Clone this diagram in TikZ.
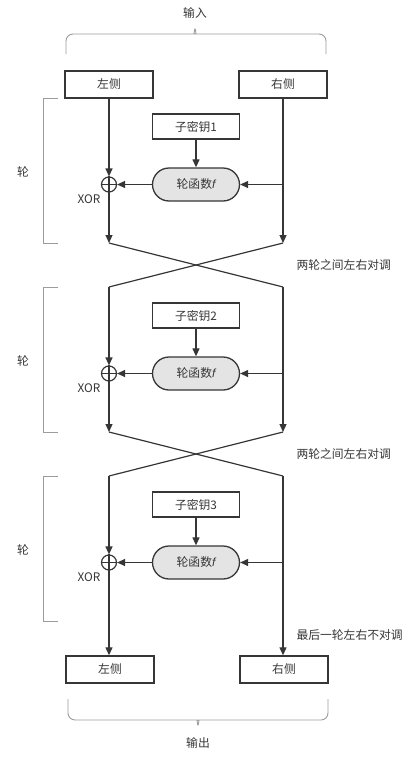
\documentclass[tikz,border=0pt]{standalone}
\usepackage{fontspec}
\setmainfont{Noto Sans CJK SC}
\newfontfamily\latinsans{Liberation Sans}
\usetikzlibrary{arrows.meta,shapes.misc,positioning}
\definecolor{inkgray}{HTML}{363636}
\definecolor{bracegray}{HTML}{9C9C9C}
\definecolor{fungray}{HTML}{E4E4E4}
\tikzset{
  halfbox/.style={draw=inkgray,line width=1.4pt,minimum width=88pt,minimum height=27pt,inner sep=0pt},
  keybox/.style={draw=inkgray,line width=1.3pt,minimum width=87pt,minimum height=25pt,inner sep=0pt},
  roundfn/.style={rounded rectangle,draw=inkgray,fill=fungray,line width=1.3pt,minimum width=87pt,minimum height=33pt,inner sep=0pt},
  xorgate/.style={circle,draw=inkgray,line width=1.2pt,minimum size=15pt,inner sep=0pt},
  flow/.style={draw=inkgray,line width=1.2pt},
  flowarrow/.style={flow,-{Triangle[length=8pt,width=7pt]}},
  bracketline/.style={draw=bracegray,line width=0.9pt},
}
\newcommand{\fnlabel}{轮函数{\latinsans\itshape f}}

\begin{document}
\begin{tikzpicture}[x=1pt,y=-1pt,every node/.style={text=inkgray,font=\fontsize{11.8}{14}\selectfont}]
    \useasboundingbox (0,0) rectangle (415,758);
    % input / output halves
    \node[halfbox] (inL) at (109,84.5) {左侧};
    \node[halfbox] (inR) at (283,84.5) {右侧};
    \node[halfbox] (outL) at (110,669.5) {左侧};
    \node[halfbox] (outR) at (284,669.5) {右侧};
    % round 1
    \node[keybox] (key1) at (196,126.5) {子密钥1};
    \node[roundfn] (f1) at (196,184.5) {\fnlabel};
    \node[xorgate] (x1) at (109,184.5) {};
    \node[anchor=east] (xl1) at (104,199) {XOR};
    \coordinate (t1) at (283,184.5);
    \coordinate (e1L) at (109,243);
    \coordinate (e1R) at (283,243);
    % round 2
    \coordinate (s2L) at (109,287);
    \coordinate (s2R) at (283,287);
    \node[keybox] (key2) at (196,315.5) {子密钥2};
    \node[roundfn] (f2) at (196,373.5) {\fnlabel};
    \node[xorgate] (x2) at (109,373.5) {};
    \node[anchor=east] (xl2) at (104,388) {XOR};
    \coordinate (t2) at (283,373.5);
    \coordinate (e2L) at (109,432);
    \coordinate (e2R) at (283,432);
    % round 3
    \coordinate (s3L) at (109,476);
    \coordinate (s3R) at (283,476);
    \node[keybox] (key3) at (196,504.5) {子密钥3};
    \node[roundfn] (f3) at (196,562.5) {\fnlabel};
    \node[xorgate] (x3) at (109,562.5) {};
    \node[anchor=east] (xl3) at (104,577) {XOR};
    \coordinate (t3) at (283,562.5);
    % side labels
    \node (in) at (195,13) {输入};
    \node (out) at (198,743) {输出};
    \node (r1) at (23,172) {轮};
    \node (r2) at (23,361) {轮};
    \node (r3) at (23,550) {轮};
    \node[anchor=west] (sw1) at (293,265) {两轮之间左右对调};
    \node[anchor=west] (sw2) at (293,454) {两轮之间左右对调};
    \node[anchor=west] (nosw) at (293,635) {最后一轮左右不对调};
    % braces and brackets
    \draw[bracketline,rounded corners=7pt] (66,54) -- (66,34) -- (188,34)
        .. controls (194,34) .. (195,25) .. controls (196,34) .. (202,34) -- (326,34) -- (326,54);
    \draw[bracketline,rounded corners=7pt] (68,699) -- (68,720) -- (191,720)
        .. controls (197,720) .. (198,729) .. controls (199,720) .. (205,720) -- (328,720) -- (328,699);
    \draw[bracketline] (58,98) -- (43,98) -- (43,243) -- (58,243);
    \draw[bracketline] (58,287) -- (43,287) -- (43,432) -- (58,432);
    \draw[bracketline] (58,476) -- (43,476) -- (43,621) -- (58,621);
    % diagram, round 1
    \draw[flowarrow] (inL.south) -- (x1.north);
    \draw[flow] (x1.north) -- (x1.south);
    \draw[flow] (x1.west) -- (x1.east);
    \draw[flowarrow] (x1.south) -- (e1L);
    \draw[flowarrow] (inR.south) -- (e1R);
    \draw[flowarrow] (key1) -- (f1);
    \draw[flowarrow] (t1) -- (f1.east);
    \draw[flowarrow] (f1.west) -- (x1.east);
    \draw[flow] (e1L) -- (s2R);
    \draw[flow] (e1R) -- (s2L);
    % diagram, round 2
    \draw[flowarrow] (s2L) -- (x2.north);
    \draw[flow] (x2.north) -- (x2.south);
    \draw[flow] (x2.west) -- (x2.east);
    \draw[flowarrow] (x2.south) -- (e2L);
    \draw[flowarrow] (s2R) -- (e2R);
    \draw[flowarrow] (key2) -- (f2);
    \draw[flowarrow] (t2) -- (f2.east);
    \draw[flowarrow] (f2.west) -- (x2.east);
    \draw[flow] (e2L) -- (s3R);
    \draw[flow] (e2R) -- (s3L);
    % diagram, round 3
    \draw[flowarrow] (s3L) -- (x3.north);
    \draw[flow] (x3.north) -- (x3.south);
    \draw[flow] (x3.west) -- (x3.east);
    \draw[flowarrow] (x3.south) -- (x3.south |- outL.north);
    \draw[flowarrow] (s3R) -- (s3R |- outR.north);
    \draw[flowarrow] (key3) -- (f3);
    \draw[flowarrow] (t3) -- (f3.east);
    \draw[flowarrow] (f3.west) -- (x3.east);
\end{tikzpicture}
\end{document}
